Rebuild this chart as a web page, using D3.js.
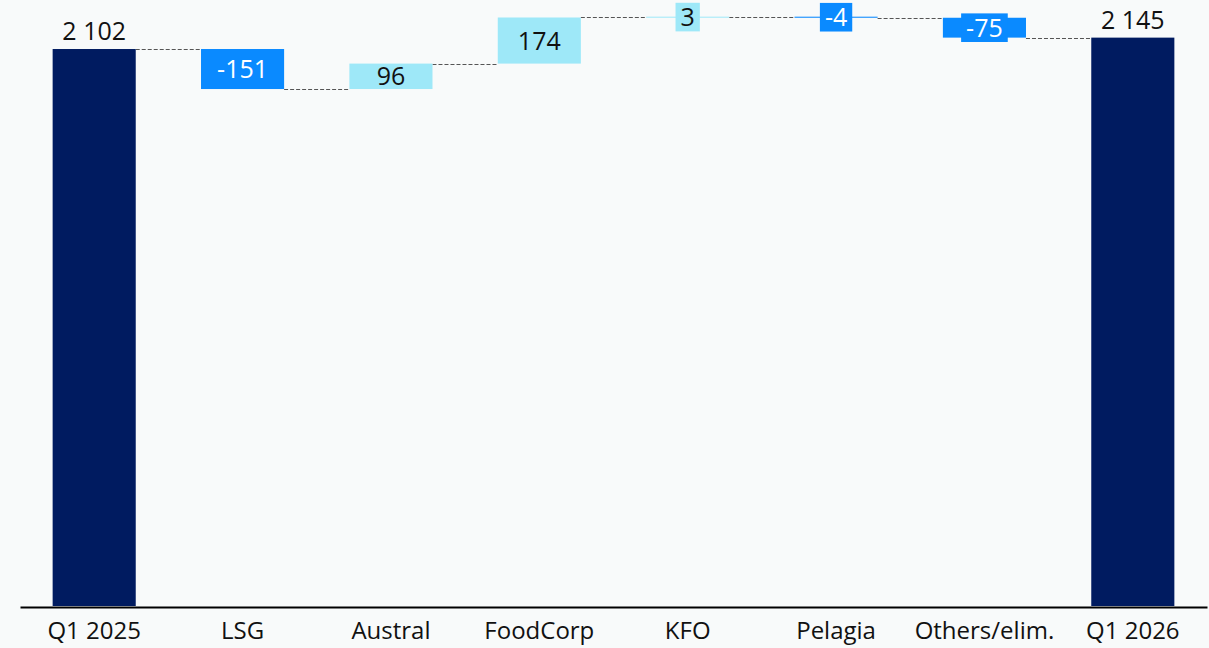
<!DOCTYPE html>
<html>
<head>
<meta charset="utf-8">
<script src="https://cdn.jsdelivr.net/npm/d3@7"></script>
<style>
  html, body { margin: 0; padding: 0; background: #f8fafa; }
  svg { display: block; }
  text { font-family: "Segoe UI", "Open Sans", sans-serif; }
</style>
</head>
<body>
<svg id="chart" width="1209" height="648"></svg>
<script>
const categories = ["Q1 2025", "LSG", "Austral", "FoodCorp", "KFO", "Pelagia", "Others/elim.", "Q1 2026"];
const values = [2102, -151, 96, 174, 3, -4, -75, 2145];
const isTotal = [true, false, false, false, false, false, false, true];

const colors = { total: "#001b60", up: "#9ee8f8", down: "#0a8aff" };
const W = 1209, H = 648;

// running totals
let run = 0;
const data = categories.map((c, i) => {
  let start, end;
  if (isTotal[i]) { start = 0; end = values[i]; run = values[i]; }
  else { start = run; end = run + values[i]; run = end; }
  return { cat: c, value: values[i], total: isTotal[i], start, end };
});

const fmt = d3.formatLocale({ decimal: ".", thousands: "\u00a0", grouping: [3], currency: ["", ""], minus: "-" }).format(",d");

const svg = d3.select("#chart");
svg.append("rect").attr("width", W).attr("height", H).attr("fill", "#f8fafa");

const x = d3.scaleBand().domain(categories).range([20, 1207]).paddingInner(0.44).paddingOuter(0.22);
const y = d3.scaleLinear().domain([0, 2287]).range([606, 0]);

// connectors
const conn = svg.append("g");
data.slice(0, -1).forEach((d, i) => {
  const yy = Math.round(y(d.end)) + 0.5;
  conn.append("line")
    .attr("x1", x(d.cat) + x.bandwidth())
    .attr("x2", x(categories[i + 1]))
    .attr("y1", yy).attr("y2", yy)
    .attr("stroke", "#555").attr("stroke-width", 1)
    .attr("stroke-dasharray", "4,2");
});

// bars
const colorOf = d => d.total ? colors.total : (d.value >= 0 ? colors.up : colors.down);
svg.append("g").selectAll("rect").data(data).join("rect")
  .attr("x", d => x(d.cat))
  .attr("width", x.bandwidth())
  .attr("y", d => y(Math.max(d.start, d.end)))
  .attr("height", d => Math.max(1, Math.abs(y(d.start) - y(d.end))))
  .attr("fill", colorOf);

// labels
const lab = svg.append("g");
data.forEach(d => {
  const cx = x(d.cat) + x.bandwidth() / 2;
  if (d.total) {
    lab.append("text")
      .attr("x", cx).attr("y", y(d.end) - 9)
      .attr("text-anchor", "middle")
      .attr("font-size", 25).attr("fill", "#111")
      .text(fmt(d.value));
  } else {
    const top = y(Math.max(d.start, d.end));
    const bot = y(Math.min(d.start, d.end));
    const cy = (top + bot) / 2;
    const g = lab.append("g");
    const t = g.append("text")
      .attr("x", cx).attr("y", cy + 9)
      .attr("text-anchor", "middle")
      .attr("font-size", 25)
      .attr("fill", d.value >= 0 ? "#111" : "#fff")
      .text(fmt(d.value));
    if (bot - top < 24) {
      const tw = t.node().getComputedTextLength();
      g.insert("rect", "text")
        .attr("x", cx - tw / 2 - 5).attr("width", tw + 10)
        .attr("y", cy - 14.3).attr("height", 28.6)
        .attr("fill", colorOf(d));
    }
  }
});

// axis
const axis = svg.append("g").attr("transform", "translate(0,607)")
  .call(d3.axisBottom(x).tickSize(0).tickSizeOuter(0).tickPadding(15));
axis.select(".domain").attr("stroke", "#000").attr("stroke-width", 2);
axis.selectAll("text").attr("font-size", 24).attr("fill", "#111")
  .attr("font-family", "'Segoe UI', 'Open Sans', sans-serif");
</script>
</body>
</html>
